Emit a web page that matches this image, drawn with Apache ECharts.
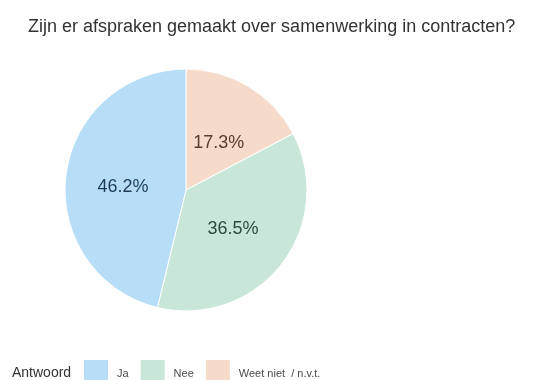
<!DOCTYPE html>
<html>
<head>
<meta charset="utf-8">
<script src="https://cdn.jsdelivr.net/npm/echarts@6/dist/echarts.min.js"></script>
<style>
  html, body { margin: 0; padding: 0; background: #fff; }
  #chart { width: 550px; height: 380px; }
</style>
</head>
<body>
<div id="chart"></div>
<script>
// Answers to the contract question, in legend order
const categories = ['Ja', 'Nee', 'Weet niet  / n.v.t.'];
const percentages = [46.2, 36.5, 17.3];
const sliceColors = ['#b7def6', '#c9e7d9', '#f7dbca'];
const labelColors = ['#1e3a56', '#2c4a3b', '#5a3b2c'];
// small nudges [dx, dy] for the percentage labels
const labelNudge = [[0, 5], [-3, 0], [0, 7]];

// Slices run clockwise from 12 o'clock: Weet niet, Nee, Ja
const drawOrder = [2, 1, 0];

const FONT = 'Liberation Sans, Arial, sans-serif';
const chart = echarts.init(document.getElementById('chart'), null, { renderer: 'canvas' });

chart.setOption({
  animation: false,
  color: sliceColors,
  title: {
    text: 'Zijn er afspraken gemaakt over samenwerking in contracten?',
    left: 28,
    top: 18,
    padding: 0,
    textStyle: {
      fontFamily: FONT,
      fontSize: 18,
      fontWeight: 'normal',
      color: '#333'
    }
  },
  legend: {
    data: categories,
    left: 82,
    top: 358,
    padding: 0,
    itemWidth: 26,
    itemHeight: 30,
    itemGap: 10,
    icon: 'rect',
    selectedMode: false,
    textStyle: {
      fontFamily: FONT,
      fontSize: 11,
      color: '#4a4a4a',
      padding: [0, 0, 0, 3]
    }
  },
  graphic: [{
    type: 'text',
    left: 12,
    top: 366,
    style: {
      text: 'Antwoord',
      font: '14px "Liberation Sans", Arial, sans-serif',
      fill: '#333'
    }
  }],
  series: [{
    type: 'pie',
    center: [186, 190],
    radius: [0, 121],
    startAngle: 90,
    clockwise: true,
    avoidLabelOverlap: false,
    itemStyle: { borderColor: '#fff', borderWidth: 1 },
    label: {
      show: true,
      position: 'inside',
      fontFamily: FONT,
      fontSize: 18,
      formatter: p => p.value.toFixed(1) + '%'
    },
    labelLine: { show: false },
    emphasis: { disabled: true },
    data: drawOrder.map(i => ({
      name: categories[i],
      value: percentages[i],
      itemStyle: { color: sliceColors[i] },
      label: { color: labelColors[i], offset: labelNudge[i] }
    }))
  }]
});
</script>
</body>
</html>
